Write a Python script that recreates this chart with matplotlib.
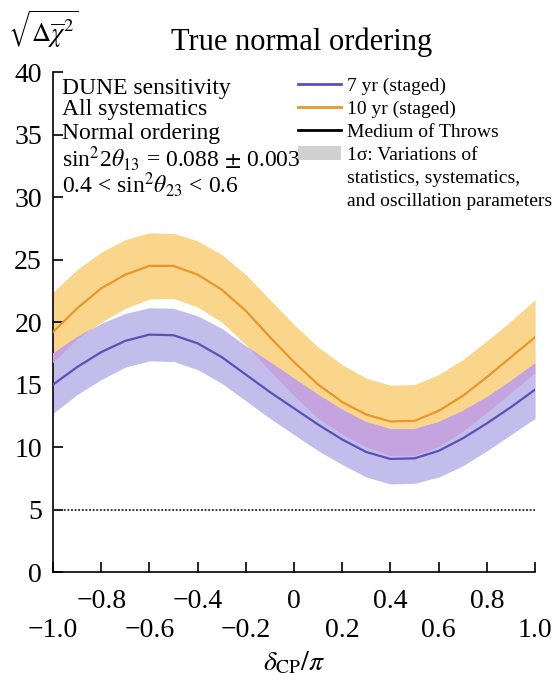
import numpy as np
import matplotlib
matplotlib.use('Agg')
import matplotlib.pyplot as plt
from matplotlib.lines import Line2D
from matplotlib.patches import Patch

plt.rcParams['font.family'] = ['Liberation Serif', 'DejaVu Serif']
plt.rcParams['mathtext.fontset'] = 'stix'

# delta_CP / pi
dcp = [-1.0, -0.9, -0.8, -0.7, -0.6, -0.5, -0.4, -0.3, -0.2, -0.1, 0.0,
       0.1, 0.2, 0.3, 0.4, 0.5, 0.6, 0.7, 0.8, 0.9, 1.0]

# 7 yr (staged): median and 1 sigma band
sens_7yr = [15.0, 16.4, 17.6, 18.5, 19.0, 18.95, 18.3, 17.2, 15.8, 14.4, 13.1,
            11.8, 10.6, 9.6, 9.05, 9.1, 9.7, 10.7, 11.9, 13.2, 14.6]
up_7yr = [17.5, 18.8, 19.9, 20.7, 21.15, 21.1, 20.5, 19.5, 18.1, 16.8, 15.5,
          14.2, 13.0, 12.0, 11.45, 11.45, 12.0, 12.9, 14.0, 15.3, 16.7]
lo_7yr = [12.7, 14.2, 15.4, 16.4, 16.9, 16.85, 16.2, 15.1, 13.7, 12.3, 11.0,
          9.7, 8.6, 7.6, 7.05, 7.1, 7.6, 8.5, 9.7, 11.0, 12.3]

# 10 yr (staged)
sens_10yr = [19.2, 21.1, 22.7, 23.8, 24.5, 24.5, 23.8, 22.6, 20.9, 18.8, 16.8,
             15.0, 13.6, 12.6, 12.05, 12.1, 12.9, 14.1, 15.6, 17.2, 18.8]
up_10yr = [22.4, 24.2, 25.6, 26.6, 27.15, 27.1, 26.5, 25.4, 23.8, 21.8, 19.8,
           18.0, 16.6, 15.5, 14.95, 15.0, 15.8, 17.0, 18.5, 20.1, 21.8]
lo_10yr = [16.7, 18.6, 20.0, 21.1, 21.85, 21.9, 21.2, 20.0, 18.2, 16.1, 14.1,
           12.3, 11.0, 10.0, 9.3, 9.3, 10.0, 11.2, 12.7, 14.3, 15.9]

five_sigma = 5

c_purple = '#5a50b6'
c_purple_band = '#c3bdeb'
c_orange = '#e9962c'
c_orange_band = '#f9d68c'
c_overlap = '#c4a3de'

fig = plt.figure(figsize=(5.58, 6.81), dpi=100)
ax = fig.add_axes([0.095, 0.160, 0.864, 0.734])

x = np.array(dcp)
ax.fill_between(x, lo_10yr, up_10yr, color=c_orange_band, lw=0, zorder=1)
ax.fill_between(x, lo_7yr, up_7yr, color=c_purple_band, lw=0, zorder=2)
ov_lo = np.maximum(lo_10yr, lo_7yr)
ov_hi = np.minimum(up_10yr, up_7yr)
ax.fill_between(x, ov_lo, ov_hi, where=ov_hi > ov_lo, interpolate=True,
                color=c_overlap, lw=0, zorder=3)
ax.plot(x, sens_10yr, color=c_orange, lw=1.6, zorder=4)
ax.plot(x, sens_7yr, color=c_purple, lw=1.6, zorder=4)
ax.plot([dcp[0], dcp[-1]], [five_sigma, five_sigma], color='#222222',
        ls=(0, (1, 1)), lw=1.3, zorder=4)

ax.set_xlim(-1, 1)
ax.set_ylim(0, 40)
for s in ['top', 'right']:
    ax.spines[s].set_visible(False)
ax.spines['left'].set_linewidth(1.2)
ax.spines['bottom'].set_linewidth(1.2)

ax.set_yticks(range(0, 41, 5))
ax.tick_params(axis='y', direction='in', length=7, width=1.2, pad=8, labelsize=20)

ax.set_xticks([-1.0, -0.6, -0.2, 0.2, 0.6, 1.0])
ax.set_xticklabels(['\u22121.0', '\u22120.6', '\u22120.2', '0.2', '0.6', '1.0'])
ax.set_xticks([-0.8, -0.4, 0.0, 0.4, 0.8], minor=True)
ax.set_xticklabels(['\u22120.8', '\u22120.4', '0', '0.4', '0.8'], minor=True)
ax.tick_params(axis='x', which='major', direction='in', length=7, width=1.2,
               pad=33, labelsize=20)
ax.tick_params(axis='x', which='minor', direction='in', length=7, width=1.2,
               pad=12, labelsize=20)
ax.set_xlabel(r'$\delta_{\rm CP}/\pi$', fontsize=20, labelpad=5)

fig.text(0.015, 0.988, r'$\sqrt{\Delta\overline{\chi}^{2}}$', fontsize=19,
         ha='left', va='top')
fig.text(0.541, 0.938, 'True normal ordering', fontsize=22, ha='center', va='center')

tx = 0.019
lines = ['DUNE sensitivity', 'All systematics', 'Normal ordering',
         r'sin$^2$2$\theta_{13}$ = 0.088 $\pm$ 0.003',
         r'0.4 < sin$^2\theta_{23}$ < 0.6']
ys = [38.7, 37.0, 35.1, 33.1, 31.0]
for t, yv in zip(lines, ys):
    ax.text(tx, yv, t, transform=ax.get_yaxis_transform(), fontsize=17,
            ha='left', va='center', zorder=6)

blank = Line2D([], [], color='none')
handles = [Line2D([], [], color=c_purple, lw=2),
           Line2D([], [], color=c_orange, lw=2),
           Line2D([], [], color='black', lw=2),
           Patch(facecolor='#d0d0d0', edgecolor='none'),
           blank, blank]
labels = ['7 yr (staged)', '10 yr (staged)', 'Medium of Throws',
          '1\u03c3: Variations of', 'statistics, systematics,',
          'and oscillation parameters']
ax.legend(handles, labels, loc='upper left', bbox_to_anchor=(0.508, 0.99),
          frameon=False, fontsize=14, handlelength=2.2, handletextpad=0.3,
          labelspacing=0.28, borderpad=0, borderaxespad=0)

fig.savefig('out.png', dpi=100)
